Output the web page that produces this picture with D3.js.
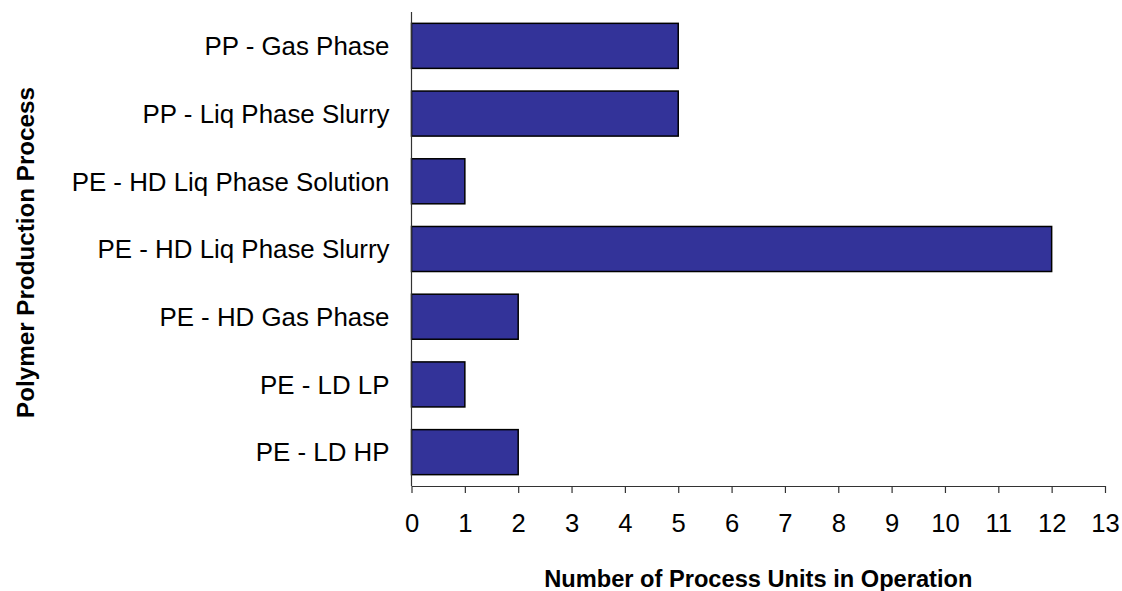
<!DOCTYPE html>
<html>
<head>
<meta charset="utf-8">
<script src="https://cdn.jsdelivr.net/npm/d3@7"></script>
<style>
  html, body { margin: 0; padding: 0; background: #ffffff; }
  svg { display: block; }
  text { font-family: Arial, "Liberation Sans", sans-serif; fill: #000; }
</style>
</head>
<body>
<svg id="chart" width="1122" height="591"></svg>
<script>
const categories = [
  "PP - Gas Phase",
  "PP - Liq Phase Slurry",
  "PE - HD Liq Phase Solution",
  "PE - HD Liq Phase Slurry",
  "PE - HD Gas Phase",
  "PE - LD LP",
  "PE - LD HP"
];
const values = [5, 5, 1, 12, 2, 1, 2];
const xTicks = [0,1,2,3,4,5,6,7,8,9,10,11,12,13];
const xTitle = "Number of Process Units in Operation";
const yTitle = "Polymer Production Process";

const svg = d3.select("#chart");
const mLeft = 411.5, mRight = 1105, mTop = 12, mBottom = 486;

const x = d3.scaleLinear().domain([0, 13]).range([mLeft, mRight]);
const y = d3.scaleBand().domain(categories).range([mTop, mBottom]).paddingInner(0.335).paddingOuter(0.1675);

// fit a font size so that a text's advance width matches a target width
function fitSize(sel, base, target) {
  sel.attr("font-size", base + "px");
  const len = sel.node().getComputedTextLength();
  return base * target / len;
}

// bars
svg.append("g").selectAll("rect").data(categories).join("rect")
  .attr("x", x(0))
  .attr("y", d => y(d))
  .attr("width", (d, i) => x(values[i]) - x(0))
  .attr("height", y.bandwidth())
  .attr("fill", "#333399")
  .attr("stroke", "#000")
  .attr("stroke-width", 1.5);

// x axis
const xAxis = svg.append("g").attr("transform", `translate(0,${mBottom})`)
  .call(d3.axisBottom(x).tickValues(xTicks).tickFormat(d3.format("d")).tickSize(7).tickSizeOuter(0));
xAxis.select(".domain").attr("stroke", "#333").attr("stroke-width", 1.2);
xAxis.selectAll(".tick line").attr("stroke", "#333").attr("stroke-width", 1.2);
const tickTexts = xAxis.selectAll(".tick text").attr("font-family", "Arial, 'Liberation Sans', sans-serif")
  .attr("y", 0).attr("dy", null).attr("transform", "translate(0,45.7)");
const tenSel = tickTexts.filter(d => d === 10);
const tickSize = fitSize(tenSel, 24, 28.5);
tickTexts.attr("font-size", tickSize + "px");

// y axis
const yAxis = svg.append("g").attr("transform", `translate(${mLeft},0)`)
  .call(d3.axisLeft(y).tickSize(0).tickPadding(22));
yAxis.select(".domain").attr("stroke", "#333").attr("stroke-width", 1.2)
  .attr("d", `M0,${mTop}V${mBottom}`);
const catTexts = yAxis.selectAll(".tick text").attr("font-family", "Arial, 'Liberation Sans', sans-serif");
const longSel = catTexts.filter(d => d === "PE - HD Liq Phase Solution");
const catSize = fitSize(longSel, 25, 318);
catTexts.attr("font-size", catSize + "px").attr("dy", "0.36em");

// titles
const xt = svg.append("text")
  .attr("x", 758.3).attr("y", 586.5)
  .attr("text-anchor", "middle")
  .attr("font-weight", "bold")
  .text(xTitle);
xt.attr("font-size", fitSize(xt, 24, 428.5) + "px");

const yt = svg.append("text")
  .attr("transform", "translate(33.5,252.5) rotate(-90)")
  .attr("text-anchor", "middle")
  .attr("font-weight", "bold")
  .text(yTitle);
yt.attr("font-size", fitSize(yt, 24, 331) + "px");
</script>
</body>
</html>
